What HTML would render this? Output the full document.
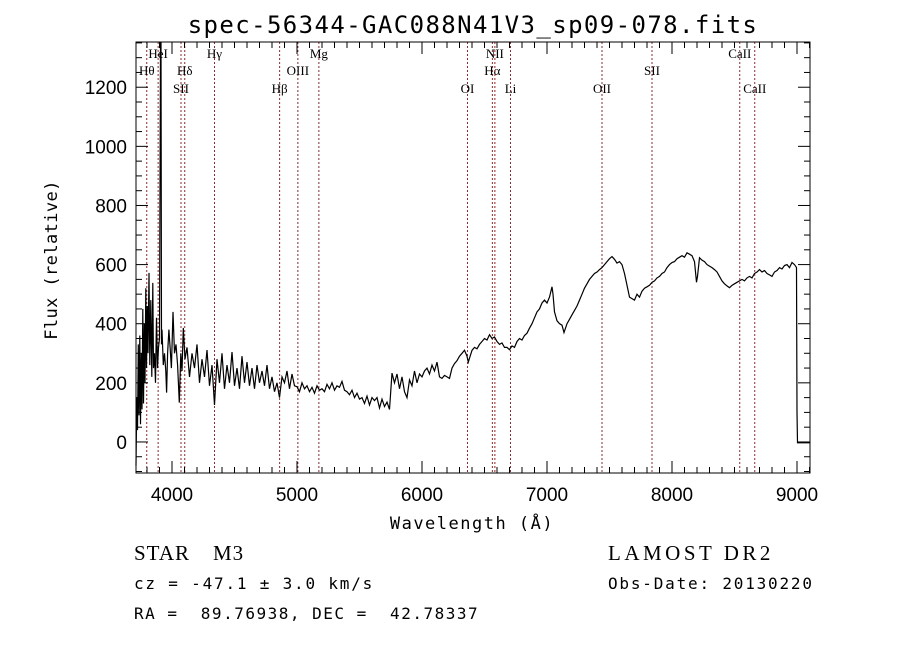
<!DOCTYPE html>
<html><head><meta charset="utf-8"><style>
body{margin:0;background:#fff;width:900px;height:649px;overflow:hidden}
svg{display:block}
.mono{font-family:"DejaVu Sans Mono","Liberation Mono",monospace;white-space:pre}
</style></head><body>
<svg id="chart" width="900" height="649" xmlns="http://www.w3.org/2000/svg">
<text x="473" y="33" text-anchor="middle" class="mono" font-size="24" letter-spacing="1.4">spec-56344-GAC088N41V3_sp09-078.fits</text>
<text x="472" y="529" text-anchor="middle" class="mono" font-size="17" letter-spacing="1.5">Wavelength (Å)</text>
<text x="57" y="260" text-anchor="middle" class="mono" font-size="17" letter-spacing="0.4" transform="rotate(-90 57 260)">Flux (relative)</text>
<text x="134" y="560" font-family="Liberation Serif,serif" font-size="21" letter-spacing="1">STAR</text>
<text x="213" y="560" font-family="Liberation Serif,serif" font-size="21" letter-spacing="1">M3</text>
<text x="608" y="560" font-family="Liberation Serif,serif" font-size="21" letter-spacing="3.5">LAMOST DR2</text>
<text x="134" y="589" class="mono" font-size="16" letter-spacing="1.8">cz = -47.1 ± 3.0 km/s</text>
<text x="608" y="589" class="mono" font-size="16" letter-spacing="1.8">Obs-Date: 20130220</text>
<text x="134" y="619" class="mono" font-size="16" letter-spacing="1.5">RA =  89.76938, DEC =  42.78337</text>
<g id="plot"></g>
</svg>
<script>
const xTicks=[4000,5000,6000,7000,8000,9000];
const yTicks=[0,200,400,600,800,1000,1200];
const lineNames=["Hθ","HeI","SII","Hδ","Hγ","Hβ","OIII","Mg","OI","Hα","NII","Li","OII","SII","CaII","CaII"];
const lineWaves=[3798,3889,4072,4102,4340,4861,5007,5175,6364,6563,6583,6708,7440,7840,8542,8662];
const lineRows=[2,1,3,2,1,3,2,1,3,2,1,3,3,2,1,3];
const specWave=[
3712,3718,3724,3730,3736,3742,3748,3754,3760,3766,
3772,3778,3784,3790,3796,3802,3808,3816,3822,3830,
3838,3846,3852,3860,3868,3876,3884,3892,3900,3908,
3912,3916,3920,3930,3940,3950,3957,3965,3975,3985,
3995,4008,4020,4032,4045,4058,4070,4080,4090,4104,
4120,4140,4160,4180,4200,4220,4240,4260,4280,4300,
4320,4340,4360,4380,4400,4420,4440,4460,4480,4500,
4520,4540,4560,4580,4600,4620,4640,4660,4680,4700,
4720,4740,4760,4780,4800,4820,4840,4860,4880,4900,
4920,4940,4960,4980,5000,5020,5040,5060,5080,5100,
5120,5140,5160,5180,5200,5220,5240,5260,5280,5300,
5320,5340,5360,5380,5400,5420,5440,5460,5480,5500,
5520,5540,5560,5580,5600,5620,5640,5660,5680,5700,
5720,5740,5760,5780,5800,5820,5840,5860,5880,5900,
5920,5940,5960,5980,6000,6020,6040,6060,6080,6100,
6120,6140,6160,6180,6200,6220,6240,6260,6280,6300,
6320,6340,6360,6370,6400,6420,6440,6460,6480,6500,
6520,6540,6560,6580,6600,6620,6640,6660,6680,6700,
6720,6740,6760,6780,6800,6820,6840,6860,6880,6900,
6920,6940,6960,6980,7000,7020,7040,7048,7060,7080,
7100,7120,7136,7160,7180,7200,7220,7240,7260,7280,
7300,7320,7340,7360,7380,7400,7420,7440,7460,7480,
7500,7520,7540,7560,7580,7600,7620,7640,7660,7680,
7700,7720,7740,7760,7780,7800,7820,7840,7860,7880,
7900,7920,7940,7960,7980,8000,8020,8040,8060,8080,
8100,8120,8140,8160,8180,8196,8204,8220,8240,8260,
8280,8300,8320,8340,8360,8380,8400,8420,8440,8460,
8480,8500,8520,8540,8560,8580,8600,8620,8640,8660,
8680,8700,8720,8740,8760,8780,8800,8820,8840,8860,
8880,8900,8920,8940,8960,8980,8996,9000,9004,9104];
const specFlux=[
-80,150,40,330,90,360,60,300,110,450,
130,400,200,520,250,460,300,572,260,480,
220,538,250,300,200,420,250,320,350,1350,
1350,330,380,260,300,240,167,300,380,320,
250,440,300,330,260,133,300,240,386,280,
320,220,300,250,330,200,280,220,311,190,
260,125,280,200,300,180,260,200,304,190,
250,180,290,200,270,190,250,180,260,200,
240,190,260,180,220,170,200,150,220,200,
240,180,230,190,187,170,200,180,190,170,
185,165,190,175,180,170,195,180,200,175,
190,185,205,175,170,160,175,150,165,145,
150,130,155,125,150,140,150,115,145,120,
135,110,233,200,230,180,220,170,150,210,
190,240,200,230,220,240,250,230,260,240,
270,220,215,225,220,215,250,265,275,290,
300,310,290,270,310,320,315,330,340,350,
345,363,350,355,340,330,335,320,320,312,
325,320,340,350,345,360,368,385,400,420,
440,450,470,480,470,490,525,500,440,410,
400,395,370,400,415,430,445,460,480,500,
520,535,550,560,570,575,583,590,600,610,
620,627,618,605,610,600,570,530,490,485,
480,500,490,510,520,525,530,540,545,555,
560,570,575,590,600,607,610,620,625,630,
625,640,635,630,610,540,560,623,615,610,
600,595,590,583,575,560,545,535,528,522,
530,535,540,545,550,545,555,560,555,570,
575,583,575,580,570,565,560,575,580,590,
585,597,600,590,607,600,590,100,-3,-3];
const L=136,R=810,T=42,B=473,X0=3712,X1=9104,Y0=-105,Y1=1353;
const sx=w=>L+(w-X0)/(X1-X0)*(R-L);
const sy=f=>B-(f-Y0)/(Y1-Y0)*(B-T);
const NS="http://www.w3.org/2000/svg";
const g=document.getElementById('plot');
function mk(tag,attrs){const e=document.createElementNS(NS,tag);for(const k in attrs)e.setAttribute(k,attrs[k]);g.appendChild(e);return e;}
lineWaves.forEach((w,i)=>{
  const ln=mk('line',{x1:sx(w),x2:sx(w),y1:T,y2:B,stroke:'#8b2a2a','stroke-width':1,'stroke-dasharray':'2,2'});
  
  
  const ys=[0,58,75,93][lineRows[i]];
  const t=mk('text',{x:sx(w),y:ys,'text-anchor':'middle','font-family':'Liberation Serif,serif','font-size':13});
  t.textContent=lineNames[i];
  
  
});
let d='';
const n=Math.min(specWave.length,specFlux.length);
for(let i=0;i<n;i++){d+=(i?'L':'M')+sx(specWave[i]).toFixed(1)+','+sy(specFlux[i]).toFixed(1);}
const p=mk('path',{d:d,fill:'none',stroke:'#000','stroke-width':1.2});


const fr=mk('rect',{x:L,y:T,width:R-L,height:B-T,fill:'none',stroke:'#000','stroke-width':1});


for(let w=3800;w<=9100;w+=100){
  const maj=w%1000===0,len=maj?12:6,x=sx(w);
  const a=mk('line',{x1:x,x2:x,y1:B,y2:B-len,stroke:'#000'});
  
  
  const b=mk('line',{x1:x,x2:x,y1:T,y2:T+len,stroke:'#000'});
  
  
}
xTicks.forEach(w=>{
  const t=mk('text',{x:sx(w),y:B+28,'text-anchor':'middle','font-family':'Liberation Sans,sans-serif','font-size':19});
  t.textContent=w;
  
  
});
for(let f=-100;f<=1350;f+=50){
  const maj=f%200===0,len=maj?12:6,y=sy(f);
  const a=mk('line',{x1:L,x2:L+len,y1:y,y2:y,stroke:'#000'});
  
  
  const b=mk('line',{x1:R,x2:R-len,y1:y,y2:y,stroke:'#000'});
  
  
}
yTicks.forEach(f=>{
  const t=mk('text',{x:127,y:sy(f)+7,'text-anchor':'end','font-family':'Liberation Sans,sans-serif','font-size':19});
  t.textContent=f;
  
  
});
</script>
</body></html>
